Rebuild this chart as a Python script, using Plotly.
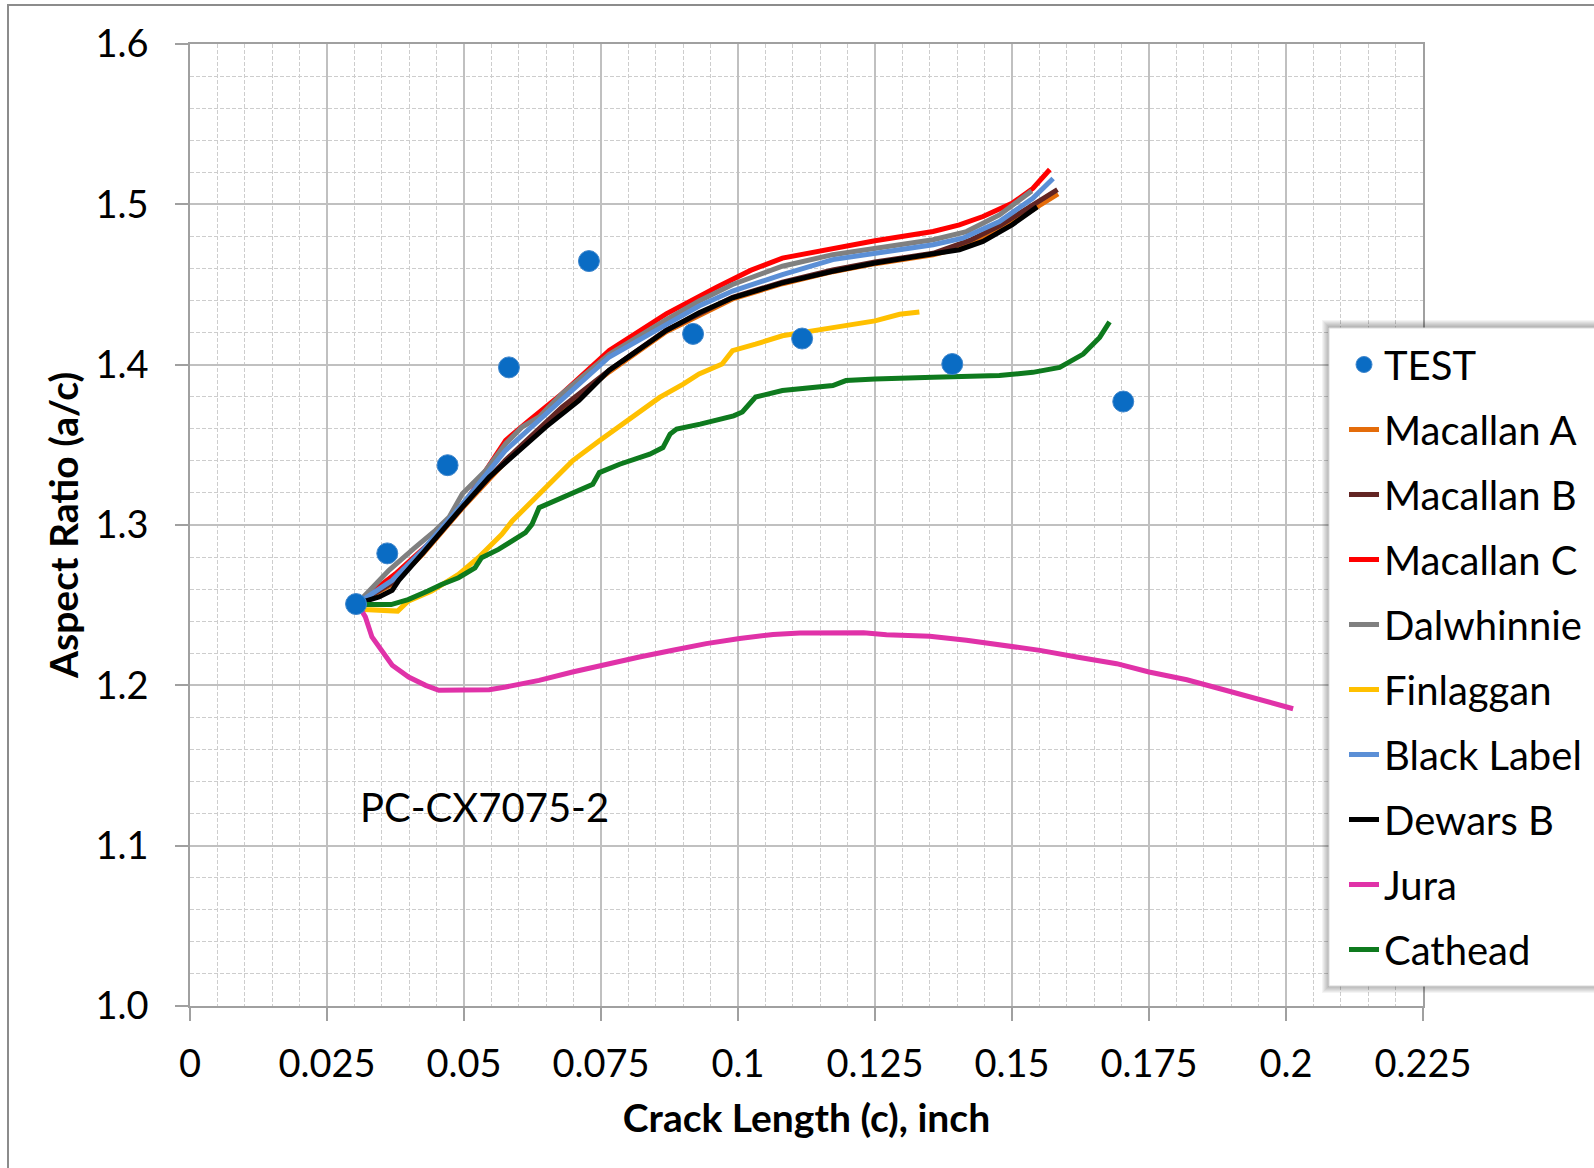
import numpy as np
import plotly.graph_objects as go

# ---------------------------------------------------------------- data
test_x = [0.0303, 0.0360, 0.0470, 0.0582, 0.0728, 0.0918, 0.1117, 0.1391, 0.1703]
test_y = [1.2507, 1.2823, 1.3373, 1.3983, 1.4646, 1.4192, 1.4163, 1.4004, 1.3770]

macallan_a_x = [0.0305, 0.0369, 0.0424, 0.0497, 0.0576, 0.0679, 0.0765, 0.0869, 0.0990,
                0.1081, 0.1173, 0.1250, 0.1356, 0.1423, 0.1478, 0.1539, 0.1584]
macallan_a_y = [1.2510, 1.2630, 1.2815, 1.3105, 1.3395, 1.3725, 1.3955, 1.4205, 1.4410,
                1.4505, 1.4580, 1.4630, 1.4685, 1.4745, 1.4840, 1.4965, 1.5065]

macallan_b_x = [0.0305, 0.0369, 0.0424, 0.0497, 0.0576, 0.0679, 0.0765, 0.0869, 0.0990,
                0.1081, 0.1173, 0.1250, 0.1356, 0.1423, 0.1478, 0.1539, 0.1583]
macallan_b_y = [1.2510, 1.2640, 1.2825, 1.3115, 1.3405, 1.3735, 1.3965, 1.4215, 1.4420,
                1.4515, 1.4590, 1.4640, 1.4695, 1.4775, 1.4868, 1.4994, 1.5092]

macallan_c_x = [0.0305, 0.0375, 0.0436, 0.0497, 0.0540, 0.0576, 0.0619, 0.0679, 0.0765,
                0.0808, 0.0869, 0.0961, 0.1023, 0.1081, 0.1173, 0.1250, 0.1356, 0.1404,
                0.1447, 0.1500, 0.1538, 0.1569]
macallan_c_y = [1.2510, 1.2696, 1.2884, 1.3112, 1.3341, 1.3528, 1.3653, 1.3819, 1.4089,
                1.4181, 1.4317, 1.4483, 1.4588, 1.4665, 1.4727, 1.4773, 1.4831, 1.4872,
                1.4924, 1.5006, 1.5099, 1.5217]

dalwhinnie_x = [0.0305, 0.0363, 0.0412, 0.0448, 0.0473, 0.0497, 0.0540, 0.0576, 0.0606,
                0.0637, 0.0679, 0.0765, 0.0869, 0.0929, 0.0990, 0.1081, 0.1173, 0.1250,
                0.1356, 0.1417, 0.1477, 0.1536]
dalwhinnie_y = [1.2510, 1.2717, 1.2863, 1.2967, 1.3050, 1.3195, 1.3341, 1.3507, 1.3611,
                1.3674, 1.3819, 1.4065, 1.4280, 1.4397, 1.4500, 1.4614, 1.4686, 1.4727,
                1.4779, 1.4830, 1.4934, 1.5084]

finlaggan_x = [0.0305, 0.0318, 0.0379, 0.0398, 0.0441, 0.0490, 0.0526, 0.0569, 0.0588,
               0.0637, 0.0698, 0.0747, 0.0808, 0.0857, 0.0900, 0.0929, 0.0971, 0.0990,
               0.1032, 0.1081, 0.1173, 0.1250, 0.1295, 0.1331]
finlaggan_y = [1.2510, 1.2473, 1.2463, 1.2525, 1.2588, 1.2692, 1.2796, 1.2942, 1.3025,
               1.3192, 1.3400, 1.3525, 1.3671, 1.3796, 1.3879, 1.3942, 1.4004, 1.4087,
               1.4128, 1.4180, 1.4231, 1.4273, 1.4314, 1.4329]

black_label_x = [0.0305, 0.0369, 0.0424, 0.0497, 0.0576, 0.0679, 0.0765, 0.0869, 0.0929,
                 0.0990, 0.1081, 0.1173, 0.1250, 0.1356, 0.1410, 0.1477, 0.1538, 0.1575]
black_label_y = [1.2510, 1.2655, 1.2842, 1.3130, 1.3466, 1.3778, 1.4048, 1.4250, 1.4366,
                 1.4459, 1.4562, 1.4655, 1.4696, 1.4748, 1.4789, 1.4893, 1.5037, 1.5161]

dewars_b_x = [0.0305, 0.0345, 0.0369, 0.0381, 0.0424, 0.0460, 0.0497, 0.0546, 0.0594,
              0.0649, 0.0710, 0.0765, 0.0808, 0.0869, 0.0929, 0.0990, 0.1081, 0.1173,
              0.1250, 0.1356, 0.1404, 0.1447, 0.1500, 0.1546]
dewars_b_y = [1.2510, 1.2551, 1.2593, 1.2655, 1.2821, 1.2967, 1.3112, 1.3299, 1.3445,
              1.3611, 1.3778, 1.3965, 1.4067, 1.4213, 1.4324, 1.4417, 1.4510, 1.4583,
              1.4634, 1.4686, 1.4717, 1.4769, 1.4872, 1.4984]

jura_x = [0.0305, 0.0320, 0.0332, 0.0351, 0.0369, 0.0399, 0.0430, 0.0454, 0.0485, 0.0546,
          0.0576, 0.0637, 0.0698, 0.0750, 0.0820, 0.0881, 0.0942, 0.1003, 0.1064, 0.1113,
          0.1229, 0.1271, 0.1350, 0.1417, 0.1500, 0.1551, 0.1618, 0.1691, 0.1750, 0.1819,
          0.1873, 0.1934, 0.2013]
jura_y = [1.2510, 1.2427, 1.2302, 1.2208, 1.2125, 1.2052, 1.2000, 1.1969, 1.1969, 1.1973,
          1.1990, 1.2031, 1.2083, 1.2125, 1.2177, 1.2219, 1.2260, 1.2292, 1.2317, 1.2326,
          1.2328, 1.2316, 1.2306, 1.2281, 1.2243, 1.2218, 1.2177, 1.2135, 1.2083, 1.2035,
          1.1985, 1.1927, 1.1854]

cathead_x = [0.0305, 0.0324, 0.0367, 0.0398, 0.0434, 0.0459, 0.0490, 0.0520, 0.0532,
             0.0563, 0.0612, 0.0624, 0.0637, 0.0680, 0.0735, 0.0747, 0.0784, 0.0839,
             0.0863, 0.0876, 0.0888, 0.0931, 0.0992, 0.1008, 0.1032, 0.1081, 0.1173,
             0.1197, 0.1250, 0.1356, 0.1477, 0.1538, 0.1587, 0.1630, 0.1660, 0.1678]
cathead_y = [1.2510, 1.2504, 1.2504, 1.2535, 1.2588, 1.2629, 1.2671, 1.2733, 1.2796,
             1.2848, 1.2952, 1.3004, 1.3108, 1.3171, 1.3254, 1.3327, 1.3379, 1.3442,
             1.3483, 1.3567, 1.3598, 1.3629, 1.3681, 1.3705, 1.3798, 1.3839, 1.3870,
             1.3901, 1.3911, 1.3921, 1.3932, 1.3952, 1.3983, 1.4066, 1.4170, 1.4267]

x_tick_vals = [0, 0.025, 0.05, 0.075, 0.1, 0.125, 0.15, 0.175, 0.2, 0.225]
x_tick_text = ["0", "0.025", "0.05", "0.075", "0.1", "0.125", "0.15", "0.175", "0.2", "0.225"]
y_tick_vals = [1.0, 1.1, 1.2, 1.3, 1.4, 1.5, 1.6]
y_tick_text = ["1.0", "1.1", "1.2", "1.3", "1.4", "1.5", "1.6"]

specimen_label = "PC-CX7075-2"

series = [
    ("Macallan A", macallan_a_x, macallan_a_y, "#E46C0A"),
    ("Macallan B", macallan_b_x, macallan_b_y, "#632523"),
    ("Macallan C", macallan_c_x, macallan_c_y, "#FF0000"),
    ("Dalwhinnie", dalwhinnie_x, dalwhinnie_y, "#808080"),
    ("Finlaggan", finlaggan_x, finlaggan_y, "#FFC000"),
    ("Black Label", black_label_x, black_label_y, "#5B8FD6"),
    ("Dewars B", dewars_b_x, dewars_b_y, "#000000"),
    ("Jura", jura_x, jura_y, "#E032A8"),
    ("Cathead", cathead_x, cathead_y, "#0E7A1E"),
]

# ---------------------------------------------------------------- layout geometry (px)
W, H = 1594, 1168
L, R, T, B = 190, 1423, 44, 1006
FONT = "Lato, 'Open Sans', sans-serif"


def paper_x(p):
    return (p - L) / (R - L)


def paper_y(p):
    return (B - p) / (B - T)


fig = go.Figure()

for rank, (name, xs, ys, color) in enumerate(series, start=2):
    fig.add_trace(go.Scatter(
        x=xs, y=ys, mode="lines", name=name,
        line=dict(color=color, width=5),
        legendgroup=name, legendrank=rank,
    ))

fig.add_trace(go.Scatter(
    x=test_x, y=test_y, mode="markers", name="TEST",
    marker=dict(color="#0A6CC4", size=21, line=dict(color="#3F86CC", width=1)),
    legendgroup="TEST", legendrank=1,
))

# legend panel: soft shadow + white box (legend itself is transparent on top)
shapes = []
lx0, ly0, lx1, ly1 = 1329, 328, 1640, 986
for g in range(7, 0, -1):
    shapes.append(dict(
        type="rect", xref="paper", yref="paper", layer="above",
        x0=paper_x(lx0 - g), x1=paper_x(lx1),
        y0=paper_y(ly1 + g), y1=paper_y(ly0 - g - 1),
        fillcolor="rgba(0,0,0,0.045)", line=dict(width=0),
    ))
shapes.append(dict(
    type="rect", xref="paper", yref="paper", layer="above",
    x0=paper_x(lx0), x1=paper_x(lx1), y0=paper_y(ly1), y1=paper_y(ly0),
    fillcolor="white", line=dict(color="#D9D9D9", width=1),
))
# chart frame
shapes.append(dict(
    type="rect", xref="paper", yref="paper", layer="below",
    x0=paper_x(8), x1=paper_x(1620), y0=paper_y(1190), y1=paper_y(5),
    line=dict(color="#8C8C8C", width=2), fillcolor="rgba(0,0,0,0)",
))

fig.update_layout(
    width=W, height=H,
    margin=dict(l=L, r=W - R, t=T, b=H - B, autoexpand=False),
    paper_bgcolor="white", plot_bgcolor="white",
    font=dict(family=FONT, size=38, color="#000000"),
    showlegend=True,
    legend=dict(
        x=paper_x(lx0), y=paper_y(ly0 + 4), xanchor="left", yanchor="top",
        bgcolor="rgba(0,0,0,0)", borderwidth=0,
        font=dict(family=FONT, size=40, color="#000000"),
        tracegroupgap=10, traceorder="grouped",
        indentation=15,
    ),
    shapes=shapes,
    annotations=[dict(
        x=0.0307, y=1.1241, xref="x", yref="y", text=specimen_label,
        showarrow=False, xanchor="left", yanchor="middle",
        font=dict(family=FONT, size=40, color="#000000"),
    )],
)

fig.update_xaxes(
    range=[0, 0.225], tickmode="array", tickvals=x_tick_vals, ticktext=x_tick_text,
    tickfont=dict(size=38),
    showgrid=True, gridcolor="#C0C0C0", gridwidth=1.5,
    showline=True, linecolor="#A0A0A0", linewidth=1.5, mirror=True,
    ticks="outside", ticklen=13, tickwidth=1.5, tickcolor="#A0A0A0",
    ticklabelstandoff=11, zeroline=False,
    minor=dict(tickmode="array", tickvals=[v for v in np.arange(0.005, 0.225, 0.005)],
               showgrid=True, gridcolor="#CDCDCD", griddash="4px,2px", gridwidth=1, ticks=""),
    title=dict(text="Crack Length (c), inch", standoff=20,
               font=dict(family=FONT, size=39, weight="bold")),
)
fig.update_yaxes(
    range=[1.0, 1.6], tickmode="array", tickvals=y_tick_vals, ticktext=y_tick_text,
    tickfont=dict(size=38),
    showgrid=True, gridcolor="#C0C0C0", gridwidth=1.5,
    showline=True, linecolor="#A0A0A0", linewidth=1.5, mirror=True,
    ticks="outside", ticklen=13, tickwidth=1.5, tickcolor="#A0A0A0",
    ticklabelstandoff=19, zeroline=False,
    minor=dict(tickmode="array", tickvals=[v for v in np.arange(1.02, 1.6, 0.02)],
               showgrid=True, gridcolor="#CDCDCD", griddash="4px,2px", gridwidth=1, ticks=""),
    title=dict(text="Aspect Ratio (a/c)", standoff=5,
               font=dict(family=FONT, size=39, weight="bold")),
)

fig.write_html("out.html")
